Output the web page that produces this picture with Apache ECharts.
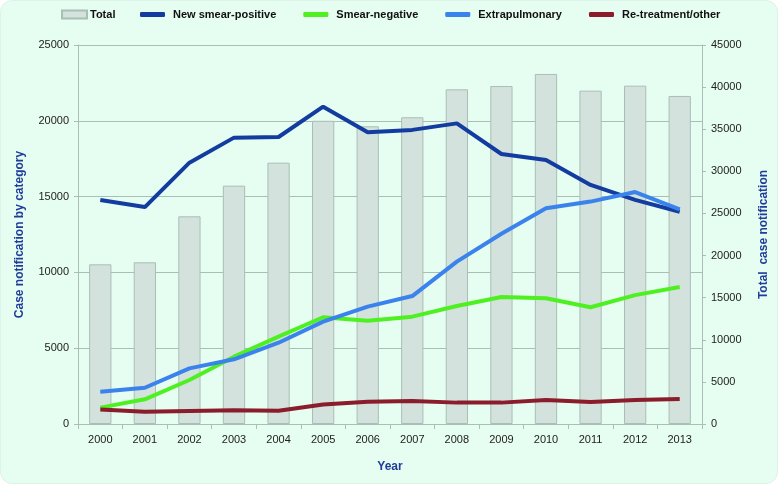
<!DOCTYPE html>
<html><head><meta charset="utf-8">
<script src="https://cdn.jsdelivr.net/npm/echarts@6/dist/echarts.min.js"></script>
<style>html,body{margin:0;padding:0;background:#fff;}#c{width:778px;height:484px;}
#wrap{position:absolute;left:0;top:0;width:776px;height:482px;border-radius:12px;background:#e6fdf1;border:1px solid #ddf3e8;}</style>
</head><body><div id="wrap"></div><div id="c" style="position:absolute;left:0;top:0;"></div>
<script>
var years = ['2000','2001','2002','2003','2004','2005','2006','2007','2008','2009','2010','2011','2012','2013'];
var total = [18960, 19200, 24660, 28300, 31030, 36000, 35350, 36420, 39740, 40130, 41560, 39580, 40170, 38950];
var newSmearPositive = [14780, 14310, 17240, 18890, 18930, 20930, 19240, 19400, 19830, 17810, 17410, 15770, 14780, 14000];
var smearNegative = [1080, 1630, 2900, 4440, 5760, 7040, 6810, 7080, 7780, 8380, 8300, 7700, 8500, 9040];
var extrapulmonary = [2130, 2390, 3670, 4270, 5360, 6750, 7740, 8440, 10710, 12550, 14230, 14670, 15300, 14150];
var retreatment = [950, 800, 850, 900, 880, 1280, 1460, 1520, 1410, 1410, 1590, 1450, 1580, 1650];
var leftTicks = {min: 0, max: 25000, interval: 5000};
var rightTicks = {min: 0, max: 45000, interval: 5000};

var chart = echarts.init(document.getElementById('c'));
var axisCol = '#a9bfb5';
var FONT = '"Liberation Sans", Arial, sans-serif';
var nameStyle = {color: '#1f3d99', fontWeight: 'bold', fontSize: 12, fontFamily: FONT};
var lblStyle = {color: '#222', fontSize: 11, fontFamily: FONT, formatter: function (v) { return String(v); }};
function lineSeries(name, data, color) {
  return {name: name, type: 'line', data: data, yAxisIndex: 0, symbol: 'none', smooth: false,
    lineStyle: {color: color, width: 4}, itemStyle: {color: color}, z: 3};
}
chart.setOption({
  backgroundColor: 'transparent',
  animation: false,
  legend: [{
    data: [{name: 'Total', icon: 'rect'}], left: 61, top: 9, padding: 0, itemWidth: 25, itemHeight: 8,
    textStyle: {fontWeight: 'bold', fontSize: 11, color: '#111', fontFamily: FONT, padding: [0,0,0,-2]}
  }, {
    data: ['New smear-positive', 'Smear-negative', 'Extrapulmonary', 'Re-treatment/other'].map(function (n) { return {name: n, icon: 'roundRect'}; }),
    left: 140, top: 9, padding: 0, itemWidth: 25, itemHeight: 5, itemGap: 27,
    textStyle: {fontWeight: 'bold', fontSize: 11, color: '#111', fontFamily: FONT, padding: [0,0,0,3]}
  }],
  grid: {left: 78, right: 51, top: 45, bottom: 60},
  xAxis: {type: 'category', data: years, boundaryGap: true,
    name: 'Year', nameLocation: 'middle', nameGap: 37, nameTextStyle: nameStyle,
    axisLine: {lineStyle: {color: axisCol}}, axisTick: {show: true, length: 5, lineStyle: {color: axisCol}},
    axisLabel: {margin: 10, color: '#222', fontSize: 11, fontFamily: FONT}},
  yAxis: [{
    type: 'value', min: leftTicks.min, max: leftTicks.max, interval: leftTicks.interval,
    name: 'Case notification by category', nameLocation: 'middle', nameRotate: 90, nameGap: 52, nameTextStyle: nameStyle,
    axisLine: {show: true, lineStyle: {color: axisCol}}, axisTick: {show: true, length: 4, lineStyle: {color: axisCol}},
    axisLabel: Object.assign({margin: 9}, lblStyle),
    splitLine: {show: true, lineStyle: {color: axisCol, width: 1}}
  }, {
    type: 'value', min: rightTicks.min, max: rightTicks.max, interval: rightTicks.interval, position: 'right',
    name: 'Total  case notification', nameLocation: 'middle', nameRotate: 90, nameGap: 56, nameTextStyle: nameStyle,
    axisLine: {show: true, lineStyle: {color: axisCol}}, axisTick: {show: true, length: 4, lineStyle: {color: axisCol}},
    axisLabel: Object.assign({margin: 9}, lblStyle),
    splitLine: {show: false}
  }],
  series: [
    {name: 'Total', type: 'bar', data: total, yAxisIndex: 1, barWidth: '50%',
      itemStyle: {color: '#d3e2dc', borderColor: '#a9bfb5', borderWidth: 1}, z: 1},
    lineSeries('New smear-positive', newSmearPositive, '#123c9f'),
    lineSeries('Smear-negative', smearNegative, '#4ff022'),
    lineSeries('Extrapulmonary', extrapulmonary, '#3b83ec'),
    lineSeries('Re-treatment/other', retreatment, '#8a1c2b')
  ]
});
</script></body></html>
